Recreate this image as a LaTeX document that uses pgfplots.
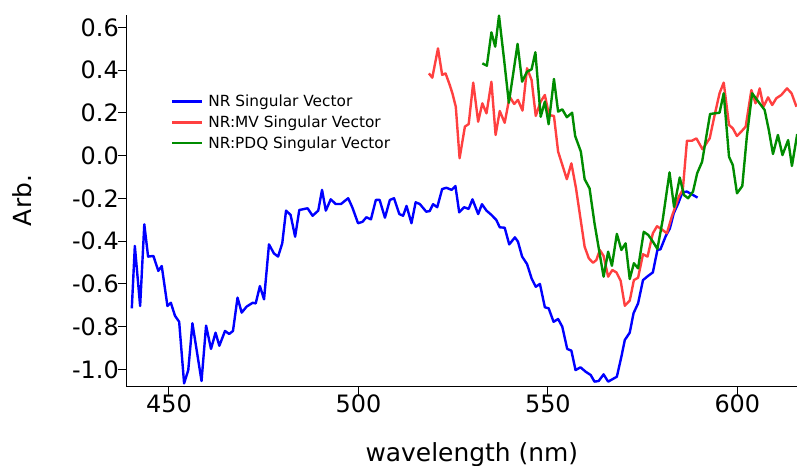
\documentclass[border=0pt]{standalone}
\usepackage{pgfplots}
\pgfplotsset{compat=1.18}
\usepackage{fontspec}
\setmainfont{DejaVu Sans}
\definecolor{nrblue}{RGB}{0,0,255}
\definecolor{mvred}{RGB}{255,64,64}
\definecolor{pdqgreen}{RGB}{0,140,0}

\pgfplotstableread{
x y
440.2 -0.714
441.0 -0.422
442.4 -0.703
443.5 -0.321
444.5 -0.472
445.9 -0.469
447.2 -0.539
448.1 -0.516
449.6 -0.703
450.5 -0.688
451.6 -0.749
452.7 -0.777
454.0 -1.065
455.1 -1.003
456.2 -0.784
458.6 -1.054
459.8 -0.795
461.1 -0.904
462.3 -0.828
463.3 -0.889
464.8 -0.820
465.9 -0.834
466.9 -0.820
468.1 -0.664
469.2 -0.734
470.5 -0.706
472.1 -0.688
472.9 -0.691
474.0 -0.610
475.1 -0.672
476.4 -0.415
477.7 -0.457
478.8 -0.472
479.9 -0.410
480.9 -0.257
482.1 -0.277
483.3 -0.379
484.4 -0.254
486.6 -0.246
487.9 -0.281
489.4 -0.257
490.4 -0.160
491.4 -0.257
492.7 -0.204
494.0 -0.226
495.4 -0.226
497.3 -0.199
498.4 -0.242
499.9 -0.316
501.1 -0.309
502.1 -0.288
503.3 -0.298
504.6 -0.207
505.6 -0.207
507.0 -0.290
508.3 -0.207
509.4 -0.199
510.8 -0.273
511.8 -0.281
512.7 -0.235
514.0 -0.316
515.1 -0.218
516.2 -0.226
517.9 -0.262
518.8 -0.259
519.7 -0.227
520.8 -0.241
522.1 -0.156
523.2 -0.150
524.6 -0.160
525.6 -0.142
526.6 -0.265
527.9 -0.241
529.1 -0.249
530.1 -0.204
531.6 -0.273
532.6 -0.227
533.8 -0.257
535.1 -0.277
536.4 -0.301
537.3 -0.335
538.6 -0.337
539.8 -0.415
541.3 -0.382
542.1 -0.402
543.2 -0.472
544.5 -0.507
545.7 -0.574
546.8 -0.613
547.9 -0.600
549.2 -0.709
550.2 -0.714
551.5 -0.777
552.7 -0.764
553.8 -0.800
555.1 -0.904
556.2 -0.912
557.3 -1.003
558.6 -0.990
560.0 -1.011
561.3 -1.026
562.3 -1.057
563.4 -1.054
564.7 -1.023
565.9 -1.057
567.0 -1.046
568.2 -1.034
569.4 -0.940
570.3 -0.862
571.6 -0.828
572.6 -0.737
573.8 -0.691
575.1 -0.582
576.4 -0.563
577.7 -0.546
578.9 -0.441
579.7 -0.438
581.1 -0.376
582.2 -0.340
583.2 -0.270
584.4 -0.223
585.5 -0.171
586.7 -0.168
589.5 -0.196
}\blue

\pgfplotstableread{
x y
518.6 0.385
519.5 0.365
521.0 0.502
522.1 0.378
523.0 0.385
524.1 0.331
524.8 0.292
525.7 0.229
526.7 -0.012
528.1 0.136
529.1 0.148
530.3 0.342
531.6 0.159
532.7 0.245
533.8 0.198
535.1 0.346
536.2 0.097
537.3 0.209
538.6 0.154
539.9 0.276
541.1 0.242
542.1 0.261
543.3 0.211
544.5 0.409
545.7 0.354
546.8 0.186
548.1 0.253
549.2 0.284
550.3 0.190
551.6 0.186
552.7 0.019
555.0 -0.110
556.2 -0.036
557.4 -0.150
559.7 -0.426
560.8 -0.480
561.9 -0.501
562.8 -0.488
563.7 -0.441
564.7 -0.469
565.9 -0.566
567.0 -0.535
568.1 -0.546
569.2 -0.585
570.3 -0.702
571.6 -0.678
572.7 -0.582
573.8 -0.571
575.1 -0.461
576.3 -0.472
577.7 -0.363
578.8 -0.330
580.1 -0.345
581.4 -0.363
582.7 -0.285
584.6 -0.190
585.6 -0.160
586.7 0.070
588.0 0.070
589.2 0.081
590.8 0.030
592.7 0.081
594.0 0.190
595.3 0.292
596.4 0.342
597.8 0.144
598.8 0.128
599.9 0.092
601.0 0.112
602.2 0.136
603.7 0.307
604.8 0.245
605.9 0.315
606.9 0.229
608.1 0.273
609.2 0.237
610.3 0.269
611.6 0.284
613.1 0.315
614.3 0.292
615.6 0.229
}\red

\pgfplotstableread{
x y
532.7 0.432
533.9 0.421
535.1 0.577
536.1 0.510
537.1 0.655
538.4 0.456
539.7 0.248
540.8 0.378
542.0 0.523
543.2 0.346
544.5 0.393
545.7 0.404
546.7 0.484
548.1 0.182
549.2 0.253
550.2 0.147
551.6 0.359
552.7 0.206
553.8 0.217
555.0 0.180
556.4 0.201
557.2 0.092
558.7 0.019
559.7 -0.110
561.0 -0.153
562.3 -0.316
563.5 -0.441
564.7 -0.566
565.9 -0.449
566.9 -0.515
568.2 -0.366
569.4 -0.441
570.5 -0.410
571.6 -0.577
572.7 -0.503
573.8 -0.527
575.3 -0.356
576.5 -0.371
577.7 -0.402
578.9 -0.436
580.3 -0.300
582.1 -0.078
583.3 -0.240
584.8 -0.102
585.9 -0.184
587.0 -0.199
588.3 -0.168
589.4 -0.082
590.7 -0.028
592.8 0.195
594.0 0.198
595.3 0.201
596.4 0.292
597.8 -0.005
598.8 -0.044
599.9 -0.176
601.3 -0.142
602.5 0.089
603.9 0.292
605.4 0.256
607.2 0.214
608.3 0.120
609.4 0.008
610.7 0.097
611.9 0.003
613.4 0.073
614.4 -0.048
615.8 0.101
}\green

\begin{document}
\begin{tikzpicture}
\path[use as bounding box] (-126.5bp,-80bp) rectangle (670.5bp,386bp);
\begin{axis}[
  at={(0,0)}, anchor=south west,
  scale only axis, width=670.5bp, height=371bp,
  xmin=438.8, xmax=615.74, ymin=-1.0774, ymax=0.6582,
  axis lines=left,
  axis line style={-, black, line width=1bp},
  xtick={450,500,550,600}, xticklabels={450,500,550,600},
  ytick={-1,-0.8,-0.6,-0.4,-0.2,0,0.2,0.4,0.6},
  yticklabels={-1.0,-0.8,-0.6,-0.4,-0.2,0.0,0.2,0.4,0.6},
  tick align=outside,
  xtick style={black, line width=1bp, /pgfplots/major tick length=10bp},
  ytick style={black, line width=1bp, /pgfplots/major tick length=8bp},
  ticklabel style={font=\fontsize{24}{28}\selectfont},
  xticklabel style={yshift=-1bp},
  xlabel={wavelength (nm)}, ylabel={Arb.},
  xlabel style={font=\fontsize{25}{30}\selectfont, at={(axis description cs:0.515,0)}, anchor=base, yshift=-75bp},
  ylabel style={font=\fontsize{25}{30}\selectfont, at={(axis description cs:-0.155,0.5)}, anchor=center},
  legend style={draw=none, fill=none, at={(axis description cs:0.066,0.79)}, anchor=north west,
    font=\fontsize{15.4}{18}\selectfont, row sep=3.6bp, inner sep=0pt, cells={anchor=west},
    nodes={inner xsep=5bp}},
  legend image code/.code={\draw[#1, line width=2.4bp] (0bp,0bp) -- (30bp,0bp);},
  every axis plot/.append style={line width=2.4bp, line join=round},
]
\addplot[nrblue, no markers] table {\blue};
\addlegendentry{NR Singular Vector}
\addplot[mvred, no markers] table {\red};
\addlegendentry{NR:MV Singular Vector}
\addplot[pdqgreen, no markers] table {\green};
\addlegendentry{NR:PDQ Singular Vector}
\end{axis}
\end{tikzpicture}
\end{document}
